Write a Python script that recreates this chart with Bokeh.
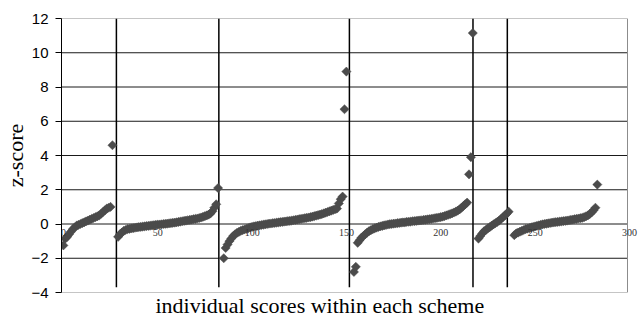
from bokeh.plotting import figure
from bokeh.models import Range1d, FixedTicker, ColumnDataSource, LabelSet, Title
from bokeh.embed import file_html
from bokeh.resources import INLINE
import math

# sorted z-scores of each scheme
scheme1 = [-1.25, -0.85, -0.75, -0.6, -0.45, -0.3, -0.2, -0.1, -0.05, 0.0, 0.05, 0.1, 0.15,
           0.2, 0.25, 0.3, 0.35, 0.4, 0.45, 0.5, 0.6, 0.7, 0.8, 0.9, 0.95, 1.0, 4.6]
scheme2 = [-0.75, -0.6, -0.5, -0.4, -0.35, -0.3, -0.28, -0.26, -0.24, -0.22, -0.2, -0.18,
           -0.17, -0.15, -0.14, -0.12, -0.11, -0.1, -0.08, -0.07, -0.05, -0.04, -0.03, -0.02,
           0.0, 0.01, 0.02, 0.04, 0.05, 0.07, 0.08, 0.1, 0.12, 0.14, 0.16, 0.18, 0.2, 0.22,
           0.24, 0.26, 0.28, 0.3, 0.32, 0.35, 0.38, 0.42, 0.46, 0.5, 0.55, 0.62, 0.75, 0.95,
           1.15, 2.1]
scheme3 = [-2.0, -1.4, -1.2, -1.0, -0.85, -0.7, -0.6, -0.52, -0.46, -0.4, -0.36, -0.32,
           -0.28, -0.24, -0.2, -0.17, -0.14, -0.12, -0.1, -0.08, -0.06, -0.04, -0.02, 0.0,
           0.02, 0.03, 0.05, 0.06, 0.08, 0.09, 0.11, 0.12, 0.14, 0.15, 0.17, 0.18, 0.2, 0.22,
           0.24, 0.26, 0.28, 0.3, 0.32, 0.34, 0.36, 0.38, 0.4, 0.43, 0.46, 0.49, 0.52, 0.55,
           0.58, 0.62, 0.66, 0.7, 0.74, 0.78, 0.82, 0.86, 0.9, 1.2, 1.45, 1.6, 6.7, 8.9]
scheme4 = [-2.8, -2.5, -1.1, -0.95, -0.8, -0.7, -0.6, -0.5, -0.42, -0.36, -0.3, -0.25,
           -0.21, -0.17, -0.14, -0.11, -0.08, -0.06, -0.03, -0.01, 0.0, 0.02, 0.03, 0.05,
           0.06, 0.08, 0.09, 0.1, 0.12, 0.13, 0.14, 0.16, 0.17, 0.18, 0.2, 0.21, 0.22, 0.24,
           0.25, 0.27, 0.28, 0.3, 0.32, 0.34, 0.36, 0.38, 0.4, 0.43, 0.46, 0.5, 0.54, 0.58,
           0.62, 0.67, 0.72, 0.78, 0.85, 0.95, 1.05, 1.15, 1.25, 2.9, 3.9, 11.15]
scheme5 = [-0.85, -0.7, -0.55, -0.42, -0.35, -0.25, -0.18, -0.1, -0.02, 0.05, 0.12, 0.2,
           0.3, 0.4, 0.5, 0.6, 0.72]
scheme6 = [-0.65, -0.55, -0.5, -0.45, -0.4, -0.35, -0.3, -0.27, -0.24, -0.2, -0.17, -0.14,
           -0.11, -0.08, -0.05, -0.02, 0.0, 0.02, 0.04, 0.06, 0.08, 0.1, 0.11, 0.12, 0.14,
           0.15, 0.17, 0.18, 0.2, 0.22, 0.24, 0.26, 0.28, 0.3, 0.32, 0.34, 0.36, 0.4, 0.45,
           0.5, 0.58, 0.68, 0.8, 0.95, 2.3]

# first index of each scheme along the x axis
scheme_starts = [1, 30, 86, 155, 221, 240]
# separators between schemes
boundaries = [29.1, 83.4, 152.6, 218.1, 236.3]
sep_bottom, sep_top = -3.7, 12

x_min, x_max = 0, 300
y_min, y_max = -4, 12
x_ticks = [0, 50, 100, 150, 200, 250, 300]
x_tick_labels = ["0", "50", "100", "150", "200", "250", "300"]
y_ticks = [-4, -2, 0, 2, 4, 6, 8, 10, 12]

schemes = [scheme1, scheme2, scheme3, scheme4, scheme5, scheme6]
xs, ys = [], []
for start, vals in zip(scheme_starts, schemes):
    for i, v in enumerate(vals):
        xs.append(start + i)
        ys.append(v)

# plot area 566 px wide for 0..300, with 12 px of room on the right for the last tick label
px_per_unit = 566 / (x_max - x_min)
p = figure(width=639, height=320, output_backend="svg", toolbar_location=None,
           x_range=Range1d(x_min, x_max + 12 / px_per_unit), y_range=Range1d(y_min, y_max),
           min_border_left=61, min_border_right=0, min_border_top=18, min_border_bottom=28)
p.background_fill_color = "white"
p.border_fill_color = "white"
p.outline_line_color = None

# y axis
p.yaxis.ticker = FixedTicker(ticks=y_ticks)
p.yaxis.minor_tick_line_color = None
p.yaxis.major_tick_out = 6
p.yaxis.major_tick_in = 0
p.yaxis.major_tick_line_color = "black"
p.yaxis.axis_line_color = "black"
p.yaxis.major_label_text_font = "Liberation Sans"
p.yaxis.major_label_text_font_size = "15px"
p.yaxis.major_label_text_color = "black"
p.yaxis.major_label_standoff = 7
p.yaxis.axis_label = "z-score"
p.yaxis.axis_label_text_font = "Liberation Serif"
p.yaxis.axis_label_text_font_size = "22px"
p.yaxis.axis_label_text_font_style = "normal"
p.yaxis.axis_label_text_color = "black"
p.yaxis.axis_label_standoff = 0

p.xaxis.visible = False
p.xgrid.grid_line_color = None
p.ygrid.grid_line_color = None

# x axis title
p.add_layout(Title(text="individual scores within each scheme", align="left", offset=94,
                   vertical_align="top",
                   text_font="Liberation Serif", text_font_size="22px",
                   text_font_style="normal", text_color="black", standoff=0), "below")

# horizontal grid lines and plot-area border, limited to the 0..300 range
grid_colors = ["#8c8c8c" if t in (y_min, y_max) else "#1a1a1a" for t in y_ticks]
p.segment(x0=[x_min] * len(y_ticks), y0=y_ticks, x1=[x_max] * len(y_ticks), y1=y_ticks,
          line_color=grid_colors, line_width=1)
p.segment(x0=[x_max], y0=[y_min], x1=[x_max], y1=[y_max], line_color="#8c8c8c", line_width=1)

# scheme separators
p.segment(x0=boundaries, y0=[sep_bottom] * len(boundaries),
          x1=boundaries, y1=[sep_top] * len(boundaries),
          line_color="black", line_width=1.5)

# x tick labels along the zero line
tick_src = ColumnDataSource(dict(x=x_ticks, y=[0] * len(x_ticks), text=x_tick_labels))
p.add_layout(LabelSet(x="x", y="y", text="text", source=tick_src,
                      text_font="Liberation Sans", text_font_size="10px",
                      text_color="#333333", text_align="center", text_baseline="top",
                      x_offset=2, y_offset=-5))

p.scatter(xs, ys, marker="square", size=6.5, angle=math.pi / 4,
          fill_color="#4b4b4b", line_color="#4b4b4b", line_width=0.5)

open("out.html", "w").write(file_html(p, INLINE))
